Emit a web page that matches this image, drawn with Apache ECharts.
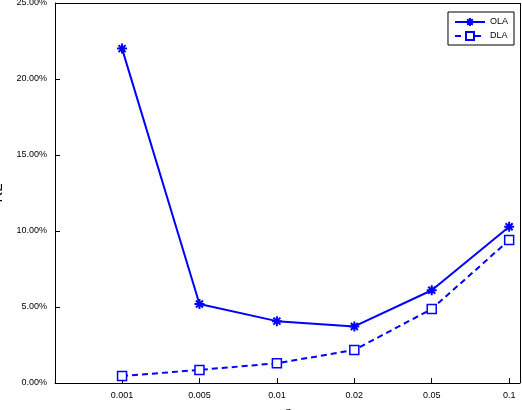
<!DOCTYPE html>
<html>
<head>
<meta charset="utf-8">
<script src="https://cdn.jsdelivr.net/npm/echarts@6/dist/echarts.min.js"></script>
<style>html,body{margin:0;padding:0;background:#fff}#chart{width:522px;height:410px}</style>
</head>
<body>
<div id="chart"></div>
<script>
// epsilon values, drawn at positions 1..6
var epsLabels = ['0.001', '0.005', '0.01', '0.02', '0.05', '0.1'];
var olaValues = [22.0, 5.2, 4.07, 3.72, 6.1, 10.28];
var dlaValues = [0.46, 0.86, 1.3, 2.17, 4.87, 9.4];

var star = 'path://M0,-10L0,10M-10,0L10,0M-7,-7L7,7M-7,7L7,-7';

function pairs(vals) {
    return vals.map(function (v, i) { return [i + 1, v]; });
}

var chart = echarts.init(document.getElementById('chart'));
var blue = '#0000ff';
chart.setOption({
    animation: false,
    grid: { left: 55, right: 2, top: 3, bottom: 27, containLabel: false, outerBoundsMode: 'none' },
    legend: {
        right: 8, top: 12, orient: 'vertical',
        backgroundColor: '#fff', borderColor: '#000', borderWidth: 1,
        padding: [5, 6, 4, 6], itemGap: 4, itemWidth: 30, itemHeight: 10,
        textStyle: { fontSize: 9, fontFamily: 'Liberation Sans', color: '#000' },
        data: ['OLA', 'DLA']
    },
    xAxis: {
        type: 'value', min: 0.134, max: 6.14,
        name: 'ε', nameLocation: 'middle', nameGap: 18,
        nameTextStyle: { fontSize: 15, fontFamily: 'Liberation Serif', fontStyle: 'italic', color: '#000' },
        axisLine: { onZero: false, lineStyle: { color: '#000' } },
        axisTick: { inside: true, length: 5, customValues: [1, 2, 3, 4, 5, 6], lineStyle: { color: '#000' } },
        axisLabel: {
            customValues: [1, 2, 3, 4, 5, 6], fontSize: 9, fontFamily: 'Liberation Sans', color: '#000',
            formatter: function (v) { return epsLabels[Math.round(v) - 1]; }
        },
        splitLine: { show: false }
    },
    yAxis: {
        type: 'value', min: 0, max: 25, interval: 5,
        name: 'RL', nameLocation: 'middle', nameGap: 42,
        nameTextStyle: { fontSize: 15, fontFamily: 'Liberation Sans', color: '#000' },
        axisLine: { show: true, lineStyle: { color: '#000' } },
        axisTick: { inside: true, length: 5, lineStyle: { color: '#000' } },
        axisLabel: {
            fontSize: 9, fontFamily: 'Liberation Sans', color: '#000',
            formatter: function (v) { return v.toFixed(2) + '%'; }
        },
        splitLine: { show: false }
    },
    series: [
        {
            name: 'OLA', type: 'line', data: pairs(olaValues),
            symbol: star, symbolSize: 10, color: blue,
            lineStyle: { width: 2, color: blue },
            itemStyle: { color: blue, borderColor: blue, borderWidth: 2 }
        },
        {
            name: 'DLA', type: 'line', data: pairs(dlaValues),
            symbol: 'rect', symbolSize: 9, color: blue,
            lineStyle: { width: 2, type: [6, 4], color: blue },
            itemStyle: { color: '#fff', borderColor: blue, borderWidth: 1.5 }
        },
        {
            type: 'line', data: [], silent: true,
            markLine: {
                silent: true, symbol: 'none', label: { show: false },
                lineStyle: { color: '#000', width: 1, type: 'solid' },
                data: [
                    [{ coord: [0.134, 25] }, { coord: [6.14, 25] }],
                    [{ coord: [6.14, 0] }, { coord: [6.14, 25] }]
                ]
            }
        }
    ]
});
</script>
</body>
</html>
